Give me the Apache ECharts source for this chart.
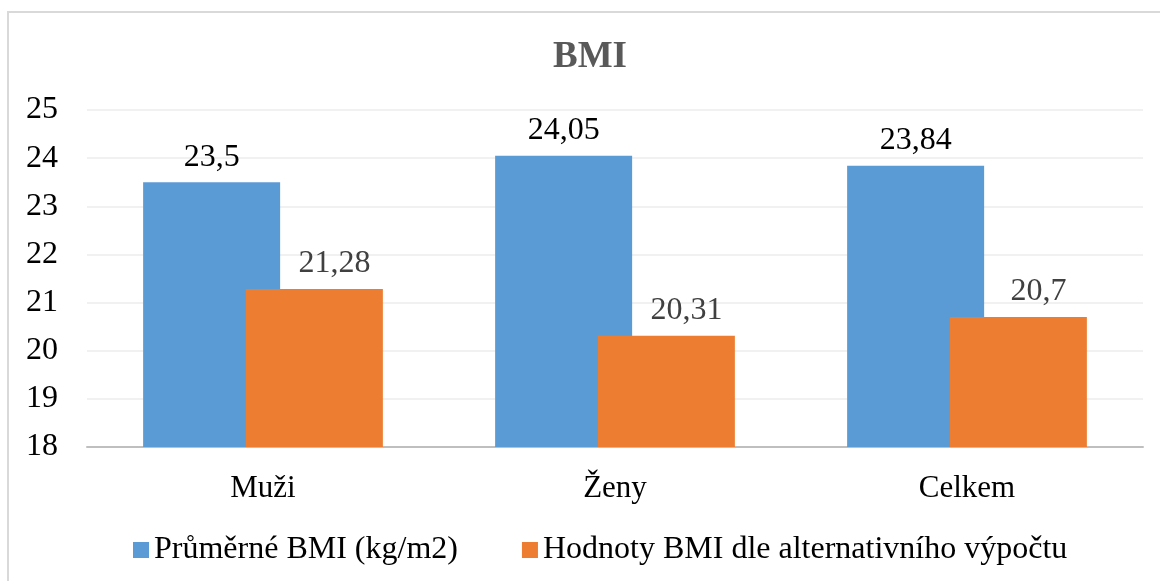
<!DOCTYPE html>
<html>
<head>
<meta charset="utf-8">
<title>BMI</title>
<script src="https://cdn.jsdelivr.net/npm/echarts@6/dist/echarts.min.js"></script>
<style>
  html, body { margin: 0; padding: 0; background: #fff; }
  #chart { width: 1160px; height: 581px; }
</style>
</head>
<body>
<div id="chart"></div>
<script>
// data
var categories = ['Muži', 'Ženy', 'Celkem'];
var seriesNames = ['Průměrné BMI (kg/m2)', 'Hodnoty BMI dle alternativního výpočtu'];
var prumerneBmi = [23.5, 24.05, 23.84];
var alternativniBmi = [21.28, 20.31, 20.7];
var yTicks = [18, 19, 20, 21, 22, 23, 24, 25];

var serif = '"Liberation Serif", "DejaVu Serif", serif';

function czNum(p) {
  return String(p.value).replace('.', ',');
}

var chart = echarts.init(document.getElementById('chart'));

var option = {
  backgroundColor: '#fff',
  animation: false,
  title: {
    text: 'BMI',
    left: 548,
    top: 34,
    textStyle: { fontFamily: serif, fontSize: 37, fontWeight: 'bold', color: '#595959' }
  },
  legend: {
    data: seriesNames,
    left: 128,
    top: 529,
    icon: 'rect',
    itemWidth: 16,
    itemHeight: 16,
    itemGap: 64,
    textStyle: { fontFamily: serif, fontSize: 32, color: '#000' }
  },
  grid: { left: 87, right: 17, top: 110, bottom: 134 },
  xAxis: {
    type: 'category',
    data: categories,
    axisTick: { show: false },
    axisLine: { lineStyle: { color: '#bfbfbf', width: 2 } },
    axisLabel: { fontFamily: serif, fontSize: 31, color: '#000', margin: 26 }
  },
  yAxis: {
    type: 'value',
    min: yTicks[0],
    max: yTicks[yTicks.length - 1],
    interval: 1,
    axisLine: { show: false },
    axisTick: { show: false },
    splitLine: { lineStyle: { color: '#ececec', width: 1.5 } },
    axisLabel: { fontFamily: serif, fontSize: 32, color: '#000', margin: 29 }
  },
  series: [
    {
      name: seriesNames[0],
      type: 'bar',
      data: prumerneBmi,
      barWidth: 137,
      barGap: '-25%',
      itemStyle: { color: '#5b9bd5' },
      label: {
        show: true, position: 'top', distance: 9,
        formatter: czNum,
        fontFamily: serif, fontSize: 32, color: '#000'
      }
    },
    {
      name: seriesNames[1],
      type: 'bar',
      data: alternativniBmi,
      barWidth: 137,
      barGap: '-25%',
      itemStyle: { color: '#ed7d31' },
      label: {
        show: true, position: 'top', distance: 9, offset: [20, 0],
        formatter: czNum,
        fontFamily: serif, fontSize: 32, color: '#404040'
      }
    }
  ],
  graphic: [
    {
      type: 'rect',
      shape: { x: 8, y: 12, width: 1300, height: 800 },
      style: { fill: 'none', stroke: '#d9d9d9', lineWidth: 2 },
      silent: true
    }
  ]
};

chart.setOption(option);
</script>
</body>
</html>
